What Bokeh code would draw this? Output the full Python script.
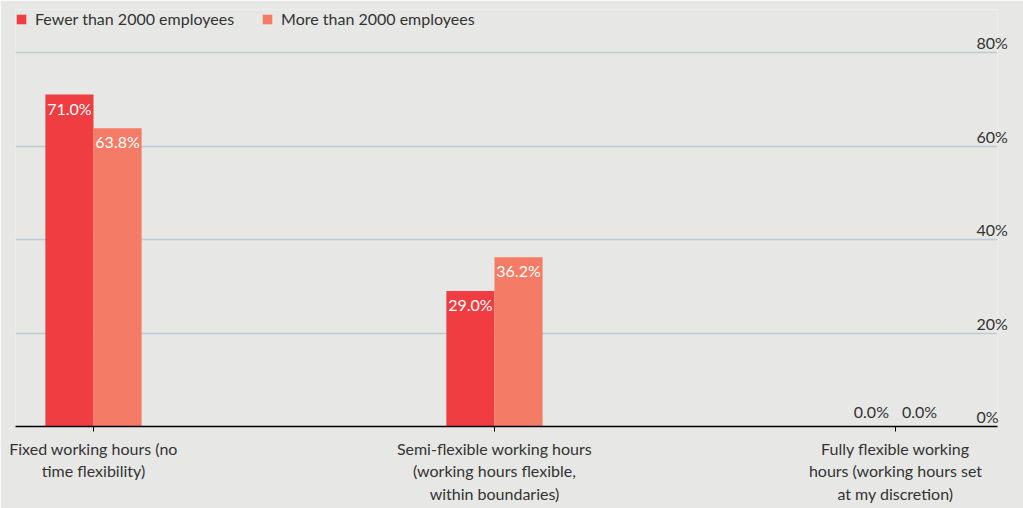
import numpy as np
from bokeh.plotting import figure
from bokeh.models import ColumnDataSource, Range1d, FixedTicker, Legend, LegendItem, LinearAxis
from bokeh.core.properties import value
from bokeh.embed import file_html
from bokeh.resources import INLINE

categories = [
    "Fixed working hours (no\ntime flexibility)",
    "Semi-flexible working hours\n(working hours flexible,\nwithin boundaries)",
    "Fully flexible working\nhours (working hours set\nat my discretion)",
]
series_names = ["Fewer than 2000 employees", "More than 2000 employees"]
fewer = [71.0, 29.0, 0.0]
more = [63.8, 36.2, 0.0]
y_ticks = [0, 20, 40, 60, 80]
y_tick_labels = ["0%", "20%", "40%", "60%", "80%"]

FONT = "Lato"
BG = "#e7e8e5"
TEXT = "#333333"
GRID = "#bccbd4"
colors = ["#ef3d41", "#f47b66"]
BAR_W = 0.12

W, H = 1023, 508
B_LEFT, B_RIGHT, B_TOP, B_BOTTOM = 15, 26, 9, 82
Y_END = 89.2
LABEL_LIFT_PX = 10  # y labels sit above their grid lines

idx = np.arange(len(categories))

p = figure(width=W, height=H, output_backend="svg", toolbar_location=None,
           x_range=Range1d(-0.1945, 2.2545), y_range=Range1d(0, Y_END),
           min_border_left=B_LEFT, min_border_right=B_RIGHT,
           min_border_top=B_TOP, min_border_bottom=B_BOTTOM,
           y_axis_location=None)
p.background_fill_color = BG
p.border_fill_color = BG
p.outline_line_color = None

renderers = []
for k, (name, vals) in enumerate(zip(series_names, [fewer, more])):
    off = (k - 0.5) * BAR_W
    xs = idx + off
    vals = np.array(vals)
    src = ColumnDataSource(dict(
        x=xs, top=vals,
        text=[f"{v:.1f}%" for v in vals],
        color=["#ffffff" if v > 0 else TEXT for v in vals],
        base=["top" if v > 0 else "bottom" for v in vals],
        yoff=[4 if v > 0 else -6 for v in vals],
    ))
    r = p.vbar(x="x", top="top", bottom=0, width=BAR_W, source=src,
               fill_color=colors[k], line_color=None)
    renderers.append(r)
    p.text(x="x", y="top", text="text", source=src, text_color="color",
           text_baseline="base", text_align="center", y_offset="yoff",
           text_font=value(FONT), text_font_size="16px")

# grid
p.xgrid.visible = False
p.ygrid.ticker = FixedTicker(ticks=y_ticks)
p.ygrid.grid_line_color = GRID
p.ygrid.grid_line_width = 1.5

# x axis
ax = p.xaxis[0]
ax.ticker = FixedTicker(ticks=list(idx))
ax.major_label_overrides = {int(i): c for i, c in zip(idx, categories)}
ax.axis_line_color = "black"
ax.axis_line_width = 1.5
ax.major_tick_line_color = "black"
ax.major_tick_in = 0
ax.major_tick_out = 5
ax.minor_tick_line_color = None
ax.major_label_text_font = FONT
ax.major_label_text_font_size = "16px"
ax.major_label_text_color = TEXT
ax.major_label_standoff = 7

# y tick labels on the right, lifted above their grid lines
frame_h = H - B_TOP - B_BOTTOM
lift = LABEL_LIFT_PX * Y_END / frame_h
label_ticks = [t + lift for t in y_ticks]
yax = LinearAxis(ticker=FixedTicker(ticks=label_ticks, minor_ticks=[]),
                 major_label_overrides={float(lt): lab for lt, lab in zip(label_ticks, y_tick_labels)},
                 axis_line_color=None, major_tick_line_color=None, minor_tick_line_color=None,
                 major_label_standoff=-27, major_label_text_font=FONT,
                 major_label_text_font_size="16px", major_label_text_color=TEXT)
p.add_layout(yax, "right")

legend = Legend(items=[LegendItem(label=n, renderers=[r]) for n, r in zip(series_names, renderers)],
                location="top_left", orientation="horizontal",
                glyph_width=12, glyph_height=12, label_standoff=8, spacing=27,
                padding=0, margin=0, border_line_color=None, background_fill_alpha=0,
                label_text_font=FONT, label_text_font_size="16px", label_text_color=TEXT)
p.add_layout(legend)

open("out.html", "w").write(file_html(p, INLINE))
